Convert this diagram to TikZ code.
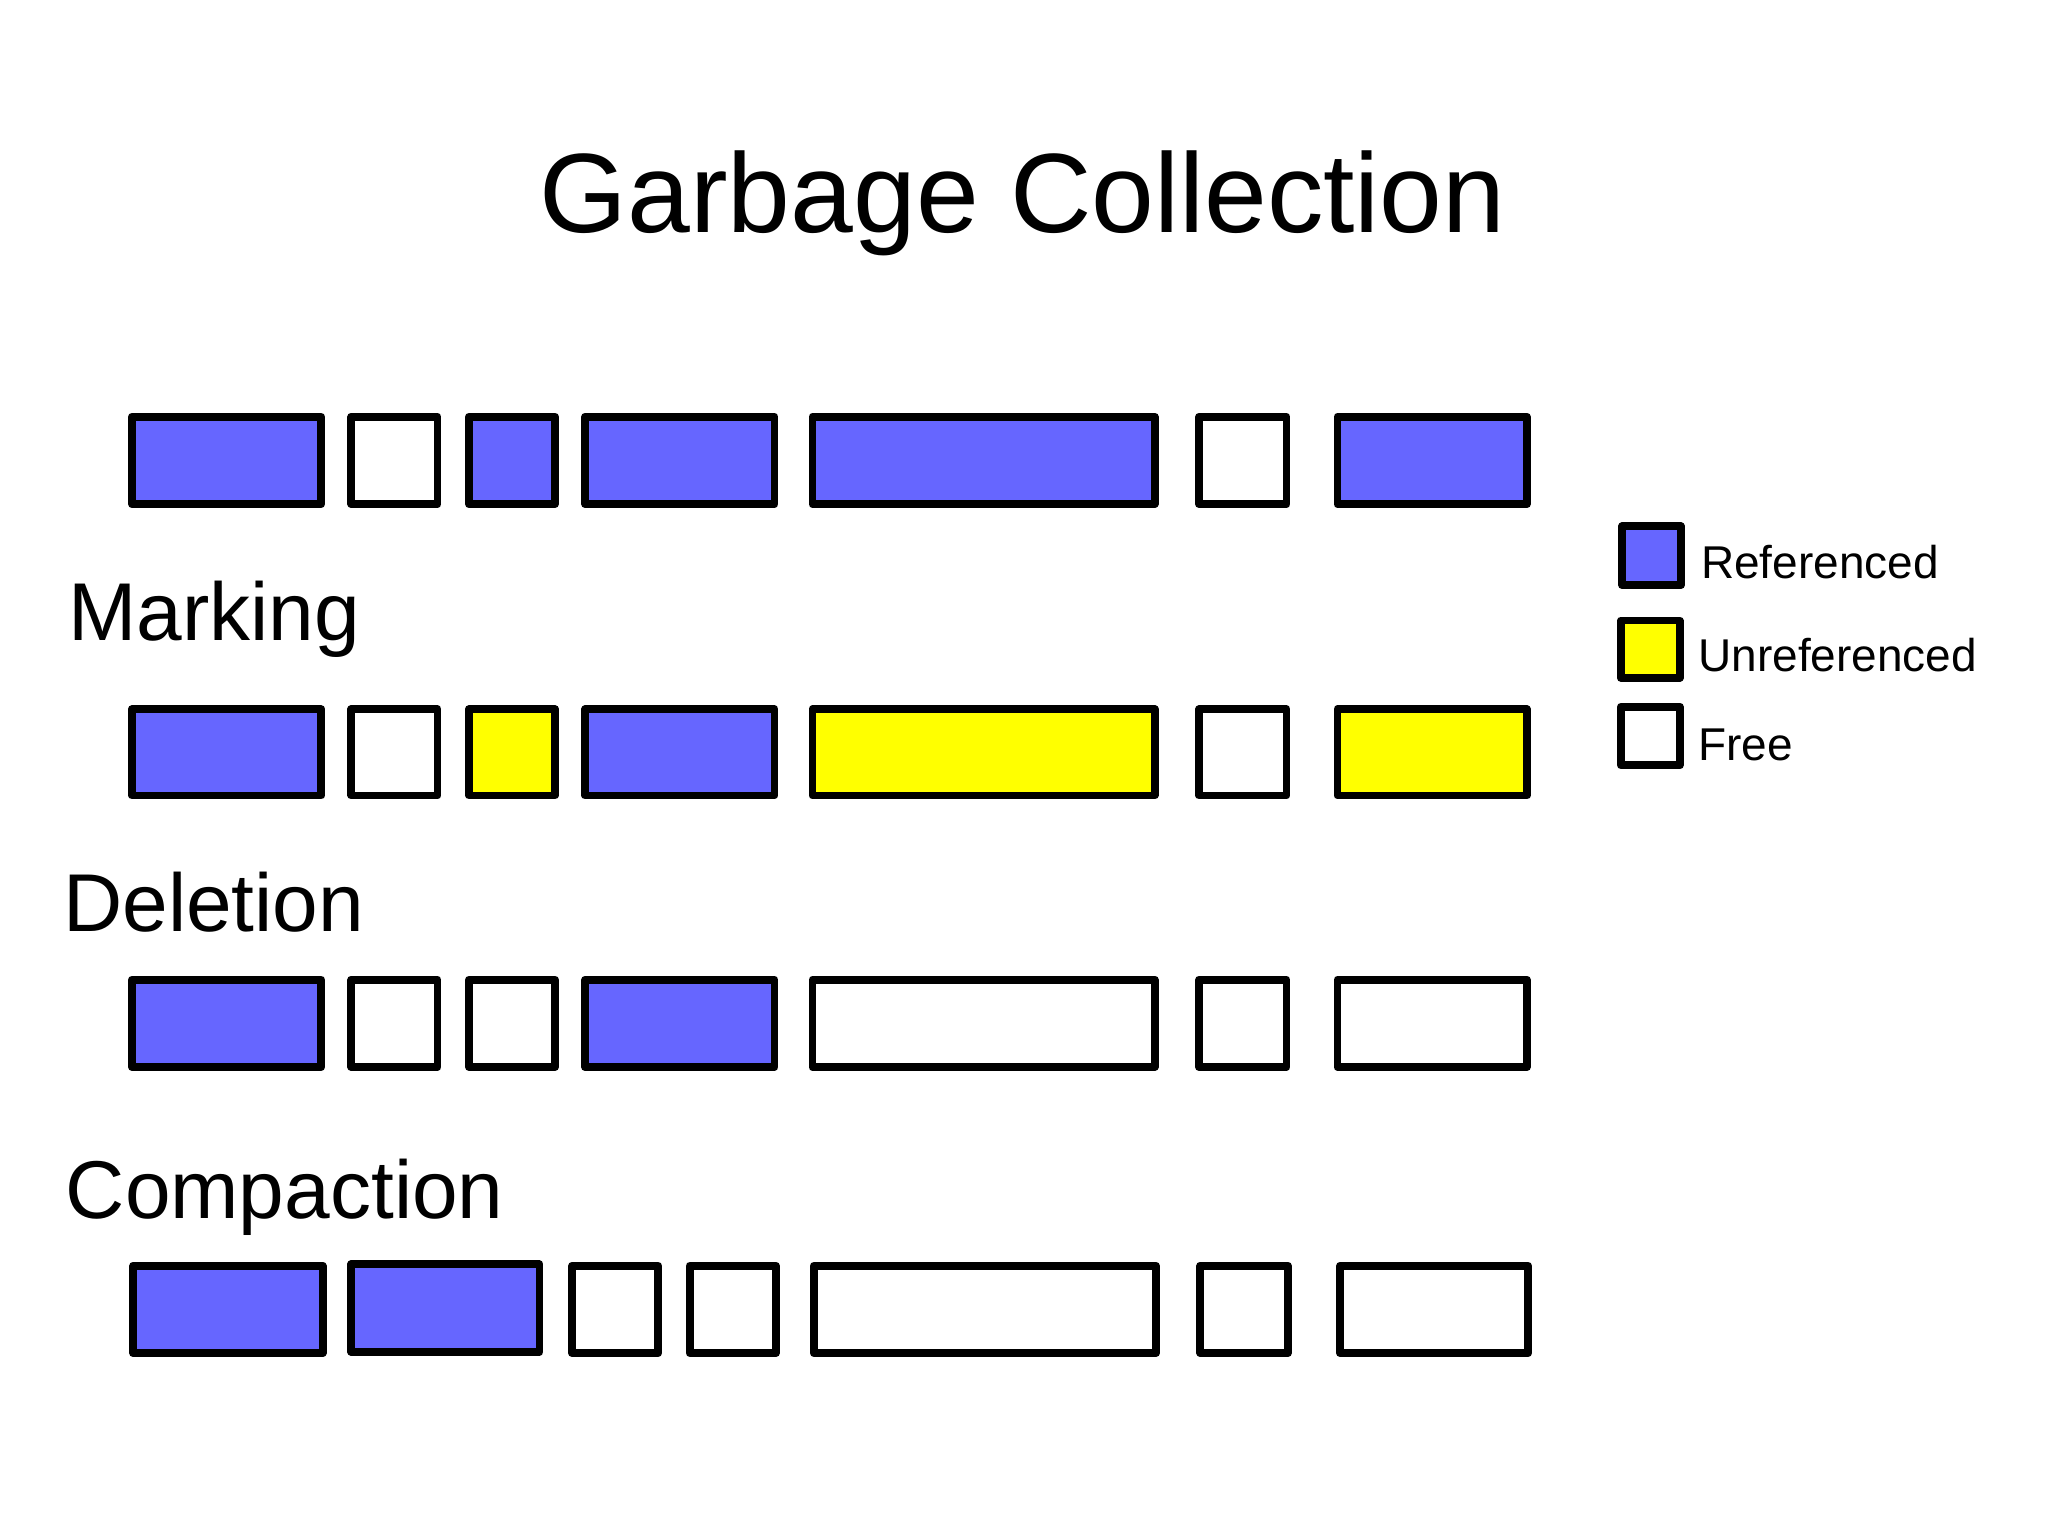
\documentclass[tikz,border=0pt]{standalone}
\usepackage{fontspec}
\setmainfont{Liberation Sans}
\definecolor{refc}{HTML}{6666FF}
\definecolor{unrefc}{HTML}{FFFF00}
\tikzset{
  mbox/.style={draw=black,line width=3pt,line join=round,inner sep=0pt,outer sep=0pt},
  stage/.style={anchor=base west,font=\fontsize{31.4}{36}\selectfont,inner sep=0pt},
  legtext/.style={anchor=base west,font=\fontsize{17.6}{21}\selectfont,inner sep=0pt}
}
\newcommand\membox[6]{\node[mbox,fill=#6,minimum width={(#3-#2)*0.5pt-1pt},minimum height={(#5-#4)*0.5pt-1pt}] (#1) at ({(#2+#3)/2},{(#4+#5)/2}) {};}
\begin{document}
\begin{tikzpicture}[x=0.5pt,y=-0.5pt]
\useasboundingbox[fill=white] (0,0) rectangle (1568,1175);
\node[anchor=base,inner sep=0pt,font=\fontsize{43.2}{50}\selectfont] (title) at (783,178) {Garbage Collection};
% Row 1
\membox{a1}{100}{247}{318}{387}{refc}
\membox{a2}{268}{336}{318}{387}{white}
\membox{a3}{358}{426}{318}{387}{refc}
\membox{a4}{447}{594}{318}{387}{refc}
\membox{a5}{621}{885}{318}{387}{refc}
\membox{a6}{917}{986}{318}{387}{white}
\membox{a7}{1023}{1170}{318}{387}{refc}
% Marking
\node[stage] (lmark) at (52,490) {Marking};
\membox{b1}{100}{247}{542}{610}{refc}
\membox{b2}{268}{336}{542}{610}{white}
\membox{b3}{358}{426}{542}{610}{unrefc}
\membox{b4}{447}{594}{542}{610}{refc}
\membox{b5}{621}{885}{542}{610}{unrefc}
\membox{b6}{917}{986}{542}{610}{white}
\membox{b7}{1023}{1170}{542}{610}{unrefc}
% Deletion
\node[stage] (ldel) at (48,713) {Deletion};
\membox{c1}{100}{247}{749}{818}{refc}
\membox{c2}{268}{336}{749}{818}{white}
\membox{c3}{358}{426}{749}{818}{white}
\membox{c4}{447}{594}{749}{818}{refc}
\membox{c5}{621}{885}{749}{818}{white}
\membox{c6}{917}{986}{749}{818}{white}
\membox{c7}{1023}{1170}{749}{818}{white}
% Compaction
\node[stage] (lcomp) at (50,933) {Compaction};
\membox{d1}{101}{248}{968}{1037}{refc}
\membox{d2}{268}{414}{967}{1036}{refc}
\membox{d3}{437}{505}{968}{1037}{white}
\membox{d4}{527}{595}{968}{1037}{white}
\membox{d5}{622}{886}{968}{1037}{white}
\membox{d6}{918}{987}{968}{1037}{white}
\membox{d7}{1025}{1171}{968}{1037}{white}
% Legend
\membox{k1}{1241}{1288}{402}{449}{refc}
\membox{k2}{1240}{1287}{474}{520}{unrefc}
\membox{k3}{1240}{1287}{540}{587}{white}
\node[legtext] (t1) at (1302,443) {Referenced};
\node[legtext] (t2) at (1300,514) {Unreferenced};
\node[legtext] (t3) at (1300,582) {Free};
\end{tikzpicture}
\end{document}
